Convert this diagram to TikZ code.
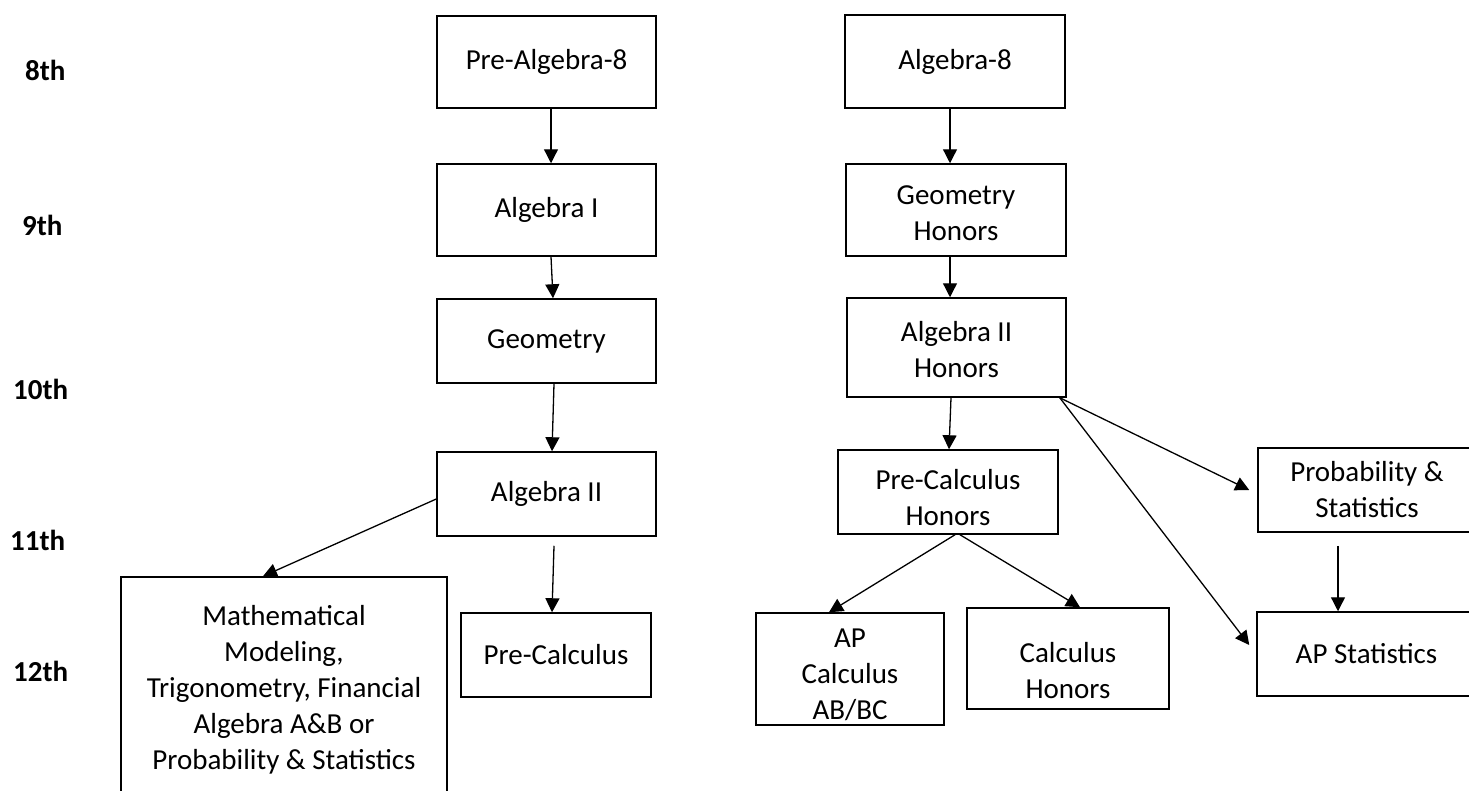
\documentclass[tikz,border=0pt]{standalone}
\usepackage{fontspec}
\setmainfont{Carlito}
\usetikzlibrary{arrows.meta}
\begin{document}
\begin{tikzpicture}[x=1pt,y=-1pt,
  box/.style={draw, line width=1.5pt, inner sep=0pt, align=center, font=\fontsize{29}{36}\selectfont},
  grade/.style={font=\bfseries\fontsize{29}{35}\selectfont, anchor=west, inner sep=0pt},
  arr/.style={line width=1.3pt, -{Triangle[length=14pt,width=14pt]}}]
\useasboundingbox (0,0) rectangle (1469,790);
% grade labels
\node[grade] (g8) at (25,70) {8th};
\node[grade] (g9) at (22,225) {9th};
\node[grade] (g10) at (13,389) {10th};
\node[grade] (g11) at (10,540) {11th};
\node[grade] (g12) at (13,671) {12th};
% left column
\node[box, minimum width=219pt, minimum height=92pt] (pa8) at (546.5,62) {Pre-Algebra-8};
\node[box, minimum width=219pt, minimum height=92pt] (a1) at (546.5,210) {Algebra I};
\node[box, minimum width=219pt, minimum height=84pt] (geo) at (546.5,341) {Geometry};
\node[box, minimum width=219pt, minimum height=84pt] (a2) at (546.5,494) {Algebra II};
\node[box, minimum width=326pt, minimum height=226pt] (mm) at (284,690) {Mathematical\\Modeling,\\Trigonometry, Financial\\Algebra A\&B or\\Probability \& Statistics};
\node[box, minimum width=190pt, minimum height=84pt] (pc) at (556,655) {Pre-Calculus};
% right column
\node[box, minimum width=220pt, minimum height=93pt] (a8) at (955,61.5) {Algebra-8};
\node[box, minimum width=220pt, minimum height=92pt] (gh) at (956,210) {\rule{0pt}{25pt}Geometry\\Honors};
\node[box, minimum width=219pt, minimum height=99pt] (a2h) at (956.5,347.5) {\rule{0pt}{25pt}Algebra II\\Honors};
\node[box, minimum width=220pt, minimum height=84pt] (pch) at (948,492) {\rule{0pt}{31pt}Pre-Calculus\\Honors};
\node[box, minimum width=188pt, minimum height=112pt] (apc) at (850,669) {\rule{0pt}{31pt}AP\\Calculus\\AB/BC};
\node[box, minimum width=202pt, minimum height=101pt] (ch) at (1068,658.5) {\rule{0pt}{45pt}Calculus\\Honors};
\node[box, minimum width=218pt, minimum height=84pt] (ps) at (1367,490) {Probability \&\\Statistics};
\node[box, minimum width=219pt, minimum height=84pt] (aps) at (1366.5,654) {AP Statistics};
% connectors
\draw[arr] ([xshift=4.5]pa8.south) -- ([xshift=4.5]a1.north);
\draw[arr] ([xshift=4.5]a1.south) -- ([xshift=6.5]geo.north);
\draw[arr] ([xshift=7.5]geo.south) -- ([xshift=5.5]a2.north);
\draw[arr] ([xshift=7.5,yshift=-9]a2.south) -- ([xshift=-4]pc.north);
\draw[arr] ([yshift=-5]a2.west) -- ([xshift=-21]mm.north);
\draw[arr] ([xshift=-5]a8.south) -- ([xshift=-6]gh.north);
\draw[arr] ([xshift=-6]gh.south) -- ([xshift=-6.5]a2h.north);
\draw[arr] ([xshift=-5.5]a2h.south) -- ([xshift=1]pch.north);
\draw[arr] ([xshift=-7]a2h.south east) -- ([xshift=-8]ps.west);
\draw[arr] ([xshift=-7]a2h.south east) -- ([xshift=-7,yshift=9]aps.west);
\draw[arr] ([xshift=7]pch.south) -- ([xshift=-21]apc.north);
\draw[arr] ([xshift=12]pch.south) -- ([xshift=12]ch.north);
\draw[arr] ([xshift=-29,yshift=-13]ps.south) -- ([xshift=-28.5]aps.north);
\end{tikzpicture}
\end{document}
